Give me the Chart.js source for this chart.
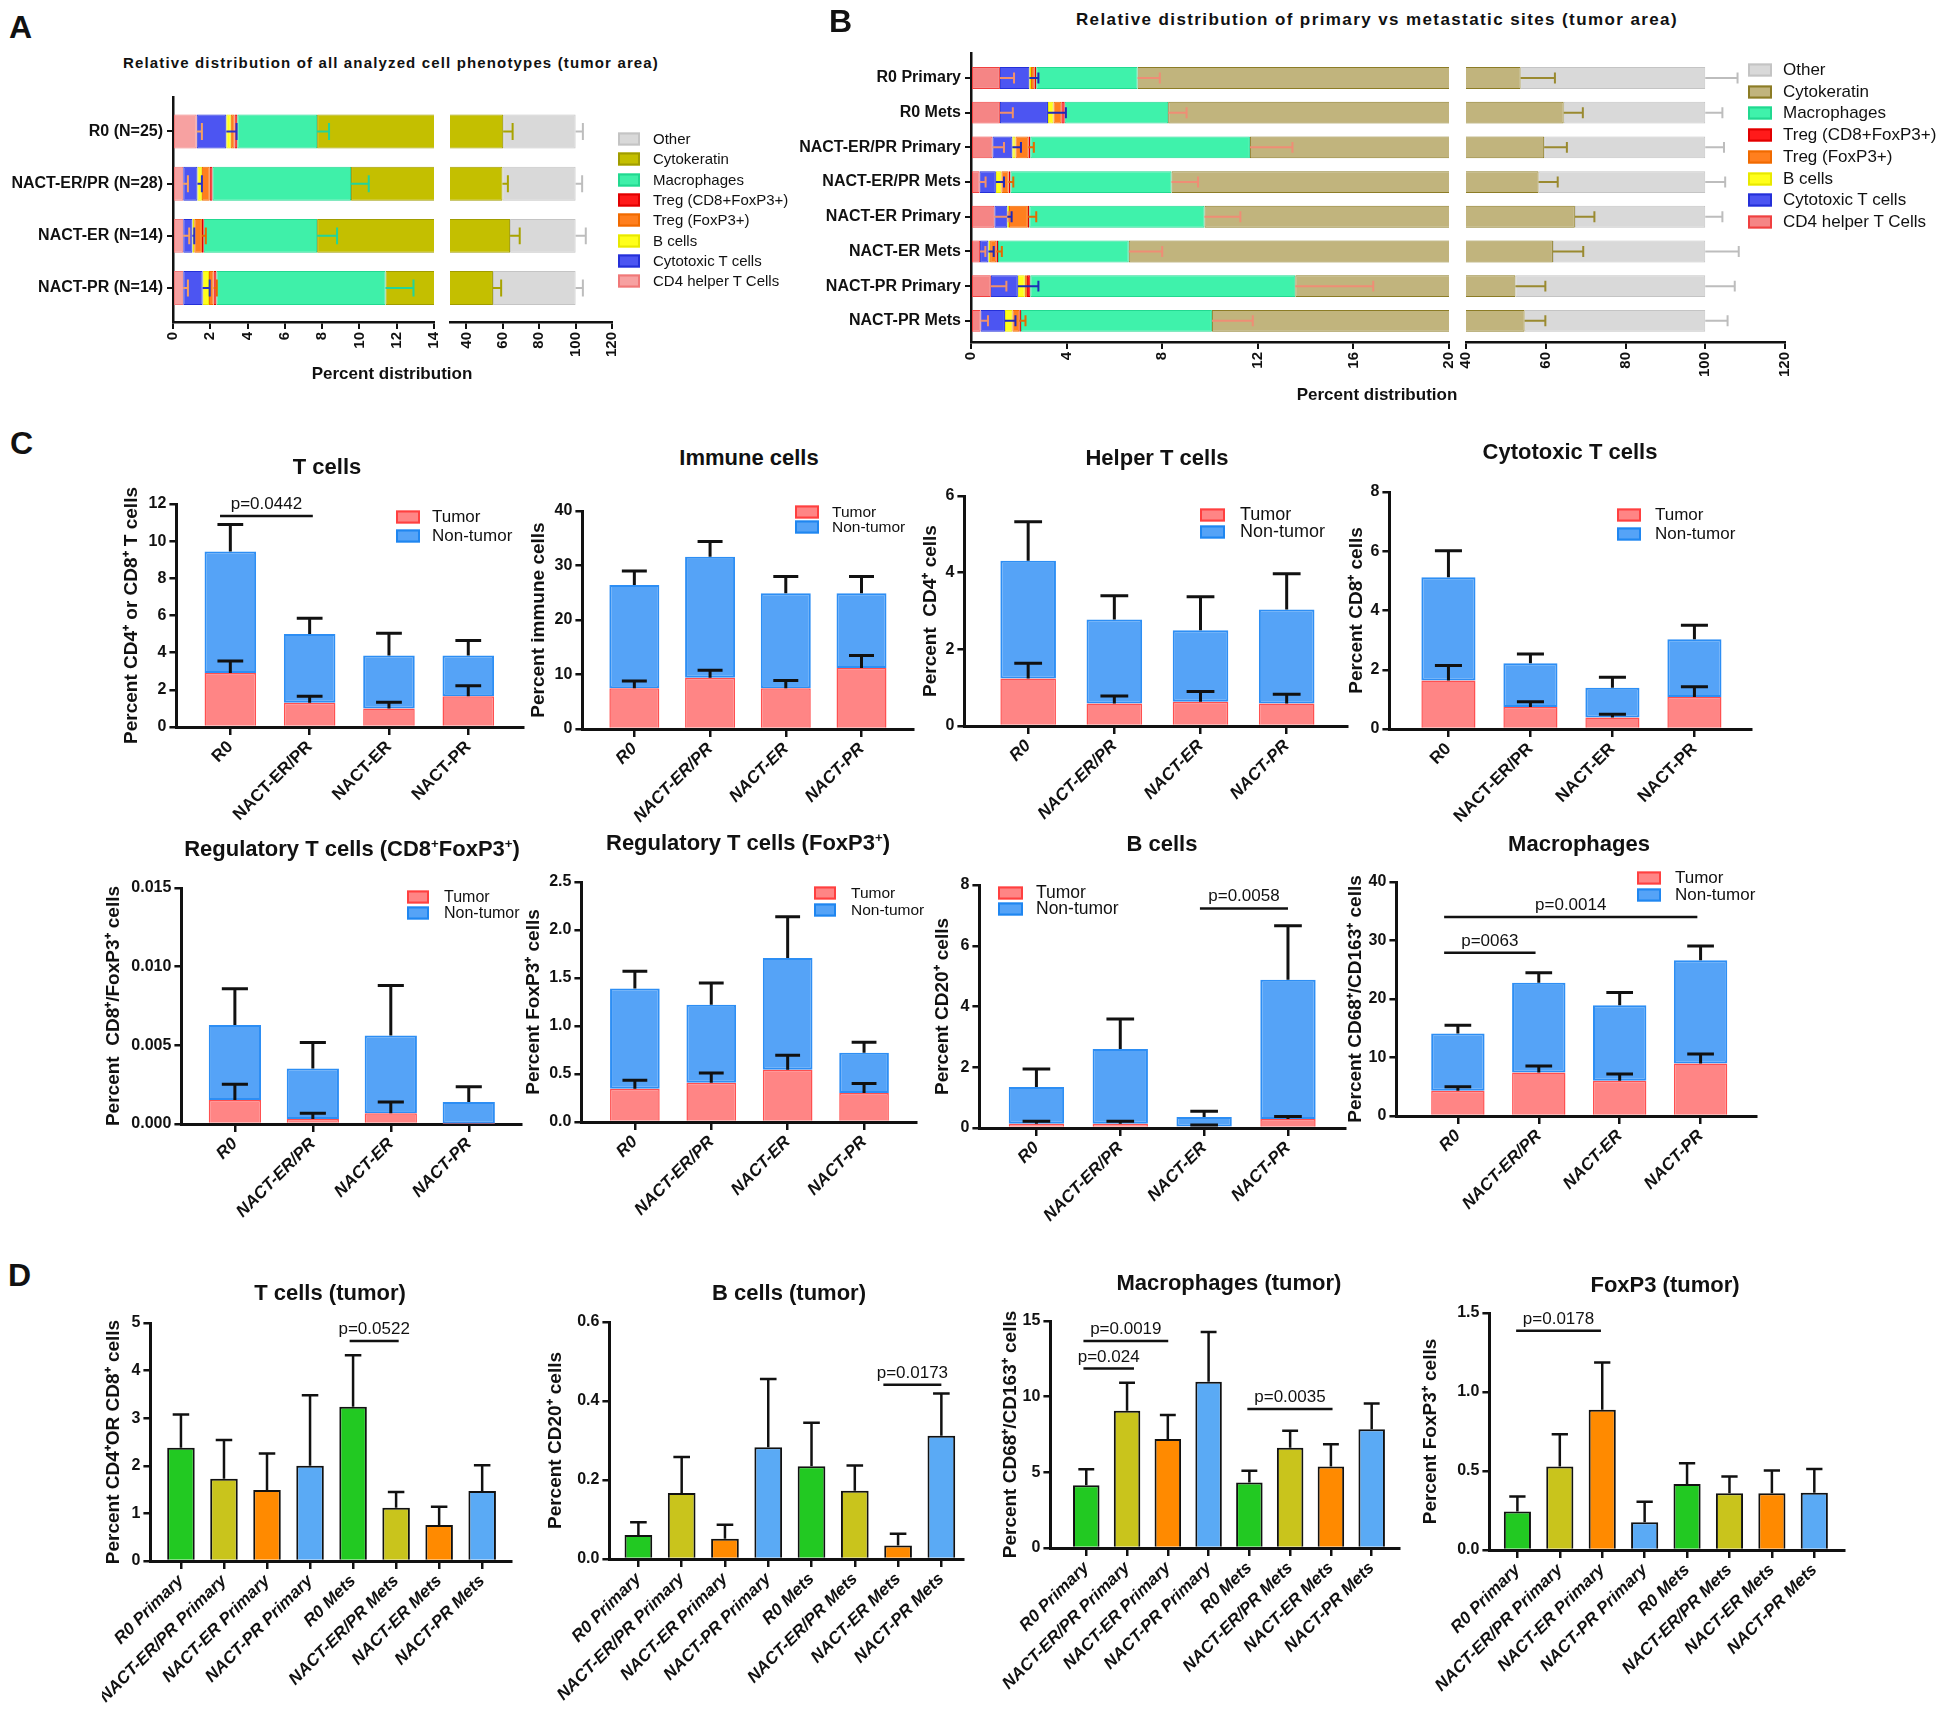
<!DOCTYPE html>
<html>
<head>
<meta charset="utf-8">
<script src="https://cdn.jsdelivr.net/npm/chart.js@4.4.1/dist/chart.umd.min.js"></script>
<style>
  body { margin: 0; background: #fff; }
  #page { position: relative; width: 1950px; height: 1723px; overflow: hidden; font-family: Arial, "Liberation Sans", sans-serif; color: #111; }
  canvas { position: absolute; }
  .txt { position: absolute; white-space: nowrap; transform: translate(-50%, -50%); line-height: 1.1; }
  .lg { position: absolute; white-space: nowrap; transform: translateY(-50%); line-height: 1.1; }
  .sw { position: absolute; box-sizing: border-box; transform: translateY(-50%); }
  .letter { position: absolute; font-weight: bold; font-size: 32px; line-height: 1; }
  sup { font-size: 0.6em; vertical-align: super; line-height: 0; }
</style>
</head>
<body>
<div id="page"></div>
<script>
const FONT = 'Arial, "Liberation Sans", sans-serif'
Chart.defaults.font.family = FONT
Chart.defaults.color = '#111'
Chart.defaults.animation = false

// ---------- panel A (segment widths, % of tumor area) ----------
const aCats = ['R0 (N=25)', 'NACT-ER/PR (N=28)', 'NACT-ER (N=14)', 'NACT-PR (N=14)']
const aHelper = [1.27, 0.55, 0.55, 0.55]
const aCytotoxic = [1.59, 0.76, 0.49, 1.04]
const aBcells = [0.24, 0.24, 0.10, 0.34]
const aTregFox = [0.20, 0.42, 0.41, 0.25]
const aTregCd8 = [0.15, 0.15, 0.10, 0.15]
const aMacro = [4.28, 7.43, 6.08, 9.07]
const aCytokeratin = [52.47, 50.25, 56.27, 43.2]
const aOther = [39.8, 40.2, 36.0, 45.4]
const aHelperErr = [0.28, 0.25, 0.32, 0.25]
const aCytotoxicErr = [0.55, 0.24, 0.1, 0.38]
const aTregFoxErr = [0, 0, 0.21, 0.17]
const aMacroErr = [0.64, 0.95, 1.07, 1.5]
const aCytokeratinErr = [5.2, 3.0, 5.3, 4.5]
const aOtherErr = [4, 3.6, 5.6, 4]
const aTicksLeft = [0, 2, 4, 6, 8, 10, 12, 14]
const aTicksRight = [40, 60, 80, 100, 120]

// ---------- panel B ----------
const bCats = ['R0 Primary', 'R0 Mets', 'NACT-ER/PR Primary', 'NACT-ER/PR Mets', 'NACT-ER Primary', 'NACT-ER Mets', 'NACT-PR Primary', 'NACT-PR Mets']
const bHelper = [1.21, 1.21, 0.9, 0.36, 0.98, 0.38, 0.83, 0.4]
const bCytotoxic = [1.23, 2.01, 0.83, 0.68, 0.54, 0.35, 1.13, 1.02]
const bBcells = [0.07, 0.23, 0.13, 0.23, 0.07, 0.07, 0.29, 0.31]
const bTregFox = [0.14, 0.33, 0.54, 0.3, 0.79, 0.26, 0.09, 0.29]
const bTregCd8 = [0.08, 0.14, 0.08, 0.08, 0.06, 0.07, 0.14, 0.07]
const bMacro = [4.24, 4.33, 9.19, 6.74, 7.33, 5.47, 11.09, 7.99]
const bCytokeratin = [46.73, 56.25, 47.93, 49.81, 57.53, 55.2, 38.83, 44.62]
const bOther = [46.3, 35.5, 40.4, 41.8, 32.7, 38.2, 47.6, 45.3]
const bHelperErr = [0.59, 0.54, 0.48, 0.25, 0.59, 0.22, 0.65, 0.31]
const bCytotoxicErr = [0.38, 0.75, 0.36, 0.34, 0.18, 0.22, 0.86, 0.44]
const bTregFoxErr = [0, 0, 0.23, 0.2, 0.35, 0.23, 0, 0.26]
const bMacroErr = [0.93, 0.77, 1.78, 1.11, 1.5, 1.4, 3.26, 1.71]
const bCytokeratinErr = [8.6, 4.8, 5.7, 4.8, 4.9, 7.6, 7.5, 5.2]
const bOtherErr = [8.1, 4.3, 4.7, 5.0, 4.3, 8.4, 7.4, 5.6]
const bTicksLeft = [0, 4, 8, 12, 16, 20]
const bTicksRight = [40, 60, 80, 100, 120]

const phenoNames = ['CD4 helper T Cells', 'Cytotoxic T cells', 'B cells', 'Treg (FoxP3+)', 'Treg (CD8+FoxP3+)', 'Macrophages', 'Cytokeratin', 'Other']

// ---------- panel C (tumor / non-tumor stacks) ----------
const cCats = ['R0', 'NACT-ER/PR', 'NACT-ER', 'NACT-PR']
const tcTumor = [2.9, 1.3, 1.0, 1.65]
const tcNon = [6.55, 3.7, 2.85, 2.2]
const tcTumorErr = [0.65, 0.35, 0.33, 0.57]
const tcNonErr = [1.45, 0.85, 1.2, 0.8]
const imTumor = [7.5, 9.4, 7.5, 11.2]
const imNon = [18.9, 22.2, 17.4, 13.7]
const imTumorErr = [1.3, 1.4, 1.4, 2.3]
const imNonErr = [2.6, 2.8, 3.1, 3.1]
const hpTumor = [1.24, 0.59, 0.63, 0.59]
const hpNon = [3.07, 2.19, 1.87, 2.45]
const hpTumorErr = [0.4, 0.19, 0.27, 0.24]
const hpNonErr = [1.02, 0.62, 0.87, 0.93]
const ctTumor = [1.64, 0.74, 0.39, 1.08]
const ctNon = [3.48, 1.48, 1.0, 1.95]
const ctTumorErr = [0.5, 0.18, 0.11, 0.35]
const ctNonErr = [0.9, 0.31, 0.36, 0.47]
const r8Tumor = [0.00152, 0.00032, 0.00068, 0.00002]
const r8Non = [0.00478, 0.00321, 0.00495, 0.00138]
const r8TumorErr = [0.001, 0.00036, 0.00072, 0]
const r8NonErr = [0.0023, 0.00165, 0.00317, 0.00097]
const rfTumor = [0.347, 0.41, 0.545, 0.302]
const rfNon = [1.043, 0.812, 1.163, 0.42]
const rfTumorErr = [0.087, 0.1, 0.15, 0.1]
const rfNonErr = [0.18, 0.226, 0.43, 0.11]
const bcTumor = [0.14, 0.14, 0.05, 0.3]
const bcNon = [1.21, 2.46, 0.31, 4.58]
const bcTumorErr = [0.08, 0.08, 0.05, 0.08]
const bcNonErr = [0.59, 0.99, 0.19, 1.78]
const mcTumor = [4.32, 7.45, 6.03, 8.99]
const mcNon = [9.78, 15.31, 12.92, 17.64]
const mcTumorErr = [0.68, 1.08, 1.14, 1.59]
const mcNonErr = [1.43, 1.71, 2.15, 2.45]
const tcTicks = [0, 2, 4, 6, 8, 10, 12]
const imTicks = [0, 10, 20, 30, 40]
const hpTicks = [0, 2, 4, 6]
const ctTicks = [0, 2, 4, 6, 8]
const r8Ticks = [0, 0.005, 0.010, 0.015]
const rfTicks = [0, 0.5, 1.0, 1.5, 2.0, 2.5]
const bcTicks = [0, 2, 4, 6, 8]
const mcTicks = [0, 10, 20, 30, 40]

// ---------- panel D (tumor only) ----------
const dCats = ['R0 Primary', 'NACT-ER/PR Primary', 'NACT-ER Primary', 'NACT-PR Primary', 'R0 Mets', 'NACT-ER/PR Mets', 'NACT-ER Mets', 'NACT-PR Mets']
const dTcells = [2.38, 1.73, 1.49, 2.0, 3.24, 1.12, 0.755, 1.47]
const dTcellsErr = [0.7, 0.81, 0.77, 1.48, 1.08, 0.33, 0.385, 0.54]
const dBcells = [0.061, 0.167, 0.051, 0.283, 0.235, 0.173, 0.034, 0.312]
const dBcellsErr = [0.032, 0.091, 0.036, 0.173, 0.11, 0.064, 0.03, 0.107]
const dMacro = [4.15, 9.07, 7.2, 10.98, 4.33, 6.63, 5.38, 7.84]
const dMacroErr = [1.05, 1.85, 1.59, 3.3, 0.77, 1.12, 1.47, 1.71]
const dFoxp3 = [0.243, 0.528, 0.887, 0.175, 0.418, 0.359, 0.359, 0.363]
const dFoxp3Err = [0.095, 0.205, 0.3, 0.131, 0.131, 0.106, 0.144, 0.15]
const dTTicks = [0, 1, 2, 3, 4, 5]
const dBTicks = [0, 0.2, 0.4, 0.6]
const dMTicks = [0, 5, 10, 15]
const dFTicks = [0, 0.5, 1.0, 1.5]

// ---------- styles ----------
const fillA = ['#f7a1a1', '#4c55f2', '#ffff1a', '#ff7f1e', '#ff1a1a', '#3ff0a9', '#c4bf00', '#d9d9d9']
const lineA = ['#f07878', '#2430d8', '#e8e800', '#f06a00', '#e00000', '#22d890', '#a09c00', '#c4c4c4']
const errA = ['#f5a060', '#2a33c8', '#d8d800', '#e56a00', '#d00000', '#22d49a', '#a8a300', '#bdbdbd']
const fillB = ['#f58585', '#4c55f2', '#ffff1a', '#ff7f1e', '#ff1a1a', '#3ff2ab', '#c1b47d', '#d9d9d9']
const lineB = ['#f04040', '#2430d8', '#e8e800', '#f06a00', '#e00000', '#22d890', '#8c7c26', '#c4c4c4']
const errB = ['#f0906a', '#1f2ab8', '#d8d800', '#e56a00', '#d00000', '#ef8d75', '#9a8a30', '#bdbdbd']
const dPalette = ['#22c922', '#c9c41c', '#ff8a00', '#5aaaf5']

const page = document.getElementById('page')

function addCanvas(x, y, w, h) {
  const c = document.createElement('canvas')
  c.width = Math.round(w)
  c.height = Math.round(h)
  c.style.left = Math.round(x) + 'px'
  c.style.top = Math.round(y) + 'px'
  page.appendChild(c)
  return c
}

function addText(html, x, y, size, spacing = 0) {
  const d = document.createElement('div')
  d.className = 'txt'
  d.innerHTML = html
  d.style.left = x + 'px'
  d.style.top = y + 'px'
  d.style.fontSize = size + 'px'
  d.style.fontWeight = 'bold'
  d.style.letterSpacing = spacing + 'px'
  page.appendChild(d)
}

function addLetter(ch, x, y) {
  const d = document.createElement('div')
  d.className = 'letter'
  d.textContent = ch
  d.style.left = x + 'px'
  d.style.top = y + 'px'
  page.appendChild(d)
}

function addLegend(names, fills, lines, swX, swW, ys, textX, size) {
  names.forEach((n, i) => {
    const s = document.createElement('div')
    s.className = 'sw'
    Object.assign(s.style, { left: swX + 'px', top: ys[i] + 'px', width: swW + 'px', height: '13px', background: fills[i], border: '2px solid ' + lines[i] })
    page.appendChild(s)
    const t = document.createElement('div')
    t.className = 'lg'
    Object.assign(t.style, { left: textX + 'px', top: ys[i] + 'px', fontSize: size + 'px' })
    t.textContent = n
    page.appendChild(t)
  })
}

// error bars drawn from the end of each bar, using the value scale
const errorBarPlugin = {
  id: 'errorBars',
  afterDatasetsDraw(chart) {
    const { ctx, chartArea: area } = chart
    const horizontal = chart.options.indexAxis === 'y'
    const vScale = horizontal ? chart.scales.x : chart.scales.y
    const span = v => Math.abs(vScale.getPixelForValue(v) - vScale.getPixelForValue(0))
    ctx.save()
    ctx.beginPath()
    ctx.rect(area.left - 1, 0, area.right - area.left + 2, chart.height)
    ctx.clip()
    chart.data.datasets.forEach((ds, di) => {
      if (!ds.errors) return
      chart.getDatasetMeta(di).data.forEach((bar, i) => {
        const e = ds.errors[i]
        if (!e) return
        const len = span(e)
        const half = (horizontal ? bar.height : bar.width) * ds.capRatio / 2
        ctx.strokeStyle = ds.errorColor
        ctx.lineWidth = ds.errorWidth
        ctx.beginPath()
        if (horizontal) {
          ctx.moveTo(bar.x, bar.y); ctx.lineTo(bar.x + len, bar.y)
          ctx.moveTo(bar.x + len, bar.y - half); ctx.lineTo(bar.x + len, bar.y + half)
        } else {
          ctx.moveTo(bar.x, bar.y); ctx.lineTo(bar.x, bar.y - len)
          ctx.moveTo(bar.x - half, bar.y - len); ctx.lineTo(bar.x + half, bar.y - len)
        }
        ctx.stroke()
      })
    })
    ctx.restore()
  }
}

// significance lines with p-values
const bracketPlugin = {
  id: 'brackets',
  afterDatasetsDraw(chart, args, opts) {
    const { ctx, scales: { x, y } } = chart
    ;(opts.items || []).forEach(b => {
      const x1 = x.getPixelForValue(b.from)
      const x2 = x.getPixelForValue(b.to)
      const yy = y.getPixelForValue(b.at)
      ctx.save()
      ctx.strokeStyle = '#111'
      ctx.lineWidth = 2.5
      ctx.beginPath(); ctx.moveTo(x1, yy); ctx.lineTo(x2, yy); ctx.stroke()
      ctx.fillStyle = '#111'
      ctx.font = '17px ' + FONT
      ctx.textAlign = 'center'
      ctx.fillText(b.label, (x1 + x2) / 2, yy - 7)
      ctx.restore()
    })
  }
}

const axisGrid = (w, len) => ({ offset: false, drawOnChartArea: false, drawTicks: true, tickLength: len, color: '#111', lineWidth: w })

function hSets(series, errs, fills, lines, errColors) {
  return series.map((vals, k) => ({
    label: phenoNames[k],
    data: vals.map((v, i) => ({ x: v, y: i })),
    backgroundColor: fills[k], borderColor: lines[k], borderWidth: 1, borderSkipped: false,
    clip: 0,
    errors: errs[k], errorColor: errColors[k], errorWidth: 2, capRatio: 0.5
  }))
}

function hChart(o) {
  const showY = !!o.cats
  const ML = showY ? o.l - o.canvasLeft : 10
  const MT = 20, MR = 25, MB = 50
  const cv = addCanvas(o.l - ML, o.t - MT, o.r - o.l + ML + MR, o.b - o.t + MT + MB)
  return new Chart(cv, {
    type: 'bar',
    data: { datasets: o.datasets },
    options: {
      indexAxis: 'y', responsive: false, animation: false,
      layout: { padding: { top: MT, right: MR, left: showY ? 0 : ML, bottom: 0 } },
      datasets: { bar: { barPercentage: o.barPct, categoryPercentage: 1 } },
      plugins: { legend: { display: false }, tooltip: { enabled: false } },
      scales: {
        y: {
          type: 'linear', stacked: true, reverse: true, offset: false, display: showY,
          min: o.idxMin, max: o.idxMax,
          afterBuildTicks: s => { s.ticks = o.n.map(i => ({ value: i })) },
          afterFit: s => { if (showY) s.width = ML },
          ticks: { autoSkip: false, callback: v => showY ? o.cats[v] : '', font: { size: 16, weight: 'bold' }, padding: 4, color: '#111' },
          grid: axisGrid(2, 6),
          border: { color: '#111', width: 2.5 }
        },
        x: {
          type: 'linear', stacked: true, min: o.xMin, max: o.xTicks[o.xTicks.length - 1],
          afterBuildTicks: s => { s.ticks = o.xTicks.map(v => ({ value: v })) },
          afterFit: s => { s.height = MB },
          ticks: { autoSkip: false, minRotation: 90, maxRotation: 90, font: { size: 15, weight: 'bold' }, padding: 3, color: '#111' },
          grid: axisGrid(2, 7),
          border: { color: '#111', width: 2.5 }
        }
      }
    },
    plugins: [errorBarPlugin]
  })
}

function cSets(tumor, non, tErr, nErr) {
  return [
    { label: 'Tumor', data: tumor.map((v, i) => ({ x: i, y: v })), backgroundColor: '#ff8585', borderColor: '#ff5050', borderWidth: 1.5,
      errors: tErr, errorColor: '#111', errorWidth: 3, capRatio: 0.5 },
    { label: 'Non-tumor', data: non.map((v, i) => ({ x: i, y: v })), backgroundColor: '#55a3f7', borderColor: '#2d8ef4', borderWidth: 2, borderSkipped: false,
      errors: nErr, errorColor: '#111', errorWidth: 3, capRatio: 0.5 }
  ]
}

function dSet(vals, errs) {
  return [{
    data: vals.map((v, i) => ({ x: i, y: v })),
    backgroundColor: vals.map((v, i) => dPalette[i % 4]),
    borderColor: '#111', borderWidth: 2,
    errors: errs, errorColor: '#111', errorWidth: 2.5, capRatio: 0.6
  }]
}

function vChart(o) {
  const ML = o.l - (o.titleX - 11.4)
  const MT = 30, MR = 14
  const cv = addCanvas(o.l - ML, o.t - MT, o.r - o.l + ML + MR, o.b - o.t + MT + o.mb)
  return new Chart(cv, {
    type: 'bar',
    data: { datasets: o.datasets },
    options: {
      responsive: false, animation: false,
      layout: { padding: { top: MT, right: MR, left: 0, bottom: 0 } },
      datasets: { bar: { barPercentage: o.barPct, categoryPercentage: 1 } },
      plugins: { legend: { display: false }, tooltip: { enabled: false }, brackets: { items: o.brackets || [] } },
      scales: {
        x: {
          type: 'linear', stacked: true, offset: false, min: o.idxMin, max: o.idxMax,
          afterBuildTicks: s => { s.ticks = o.cats.map((c, i) => ({ value: i })) },
          afterFit: s => { s.height = o.mb },
          ticks: { autoSkip: false, minRotation: 45, maxRotation: 45, callback: v => o.cats[v], padding: 2, color: '#111',
                   font: { size: 17, weight: 'bold', style: o.italic ? 'italic' : 'normal' } },
          grid: axisGrid(2.5, 8),
          border: { color: '#111', width: 3 }
        },
        y: {
          type: 'linear', stacked: true, min: o.yTicks[0], max: o.yTicks[o.yTicks.length - 1],
          afterBuildTicks: s => { s.ticks = o.yTicks.map(v => ({ value: v })) },
          afterFit: s => { s.width = ML },
          ticks: { callback: o.fmt || (v => v), font: { size: 16, weight: 'bold' }, padding: 3, color: '#111' },
          grid: axisGrid(2.5, 7),
          border: { color: '#111', width: 3 },
          title: { display: true, text: o.yTitle, font: { size: 19, weight: 'bold' }, padding: 0, color: '#111' }
        }
      }
    },
    plugins: [errorBarPlugin, bracketPlugin]
  })
}

const idx4 = [0, 1, 2, 3]
const idx8 = [0, 1, 2, 3, 4, 5, 6, 7]
const f1 = v => v.toFixed(1)
const f3 = v => v.toFixed(3)

// ---------- A ----------
const aSeries = [aHelper, aCytotoxic, aBcells, aTregFox, aTregCd8, aMacro, aCytokeratin, aOther]
const aErrs = [aHelperErr, aCytotoxicErr, null, aTregFoxErr, null, aMacroErr, aCytokeratinErr, aOtherErr]
hChart({ l: 173, r: 434, t: 97, b: 322, canvasLeft: 0, cats: aCats, n: idx4, idxMin: -0.66, idxMax: 3.65,
  xMin: 0, xTicks: aTicksLeft, barPct: 0.65, datasets: hSets(aSeries, aErrs, fillA, lineA, errA) })
hChart({ l: 450, r: 612, t: 97, b: 322, cats: null, n: idx4, idxMin: -0.66, idxMax: 3.65,
  xMin: 31, xTicks: aTicksRight, barPct: 0.65, datasets: hSets(aSeries, aErrs, fillA, lineA, errA) })

// ---------- B ----------
const bSeries = [bHelper, bCytotoxic, bBcells, bTregFox, bTregCd8, bMacro, bCytokeratin, bOther]
const bErrs = [bHelperErr, bCytotoxicErr, null, bTregFoxErr, null, bMacroErr, bCytokeratinErr, bOtherErr]
hChart({ l: 971, r: 1449, t: 53, b: 342, canvasLeft: 780, cats: bCats, n: idx8, idxMin: -0.72, idxMax: 7.61,
  xMin: 0, xTicks: bTicksLeft, barPct: 0.63, datasets: hSets(bSeries, bErrs, fillB, lineB, errB) })
hChart({ l: 1466, r: 1785, t: 53, b: 342, cats: null, n: idx8, idxMin: -0.72, idxMax: 7.61,
  xMin: 40, xTicks: bTicksRight, barPct: 0.63, datasets: hSets(bSeries, bErrs, fillB, lineB, errB) })

// ---------- C ----------
vChart({ l: 176, r: 523, t: 504, b: 727, titleX: 131, mb: 110, cats: cCats, idxMin: -0.68, idxMax: 3.69, yTicks: tcTicks,
  yTitle: 'Percent CD4⁺ or CD8⁺ T cells', italic: false, barPct: 0.65, datasets: cSets(tcTumor, tcNon, tcTumorErr, tcNonErr),
  brackets: [{ from: -0.13, to: 1.04, at: 11.36, label: 'p=0.0442' }] })
vChart({ l: 582, r: 913, t: 511, b: 729, titleX: 538, mb: 110, cats: cCats, idxMin: -0.686, idxMax: 3.68, yTicks: imTicks,
  yTitle: 'Percent immune cells', italic: true, barPct: 0.66, datasets: cSets(imTumor, imNon, imTumorErr, imNonErr) })
vChart({ l: 964, r: 1347, t: 496, b: 726, titleX: 930, mb: 110, cats: cCats, idxMin: -0.74, idxMax: 3.70, yTicks: hpTicks,
  yTitle: 'Percent  CD4⁺ cells', italic: true, barPct: 0.645, datasets: cSets(hpTumor, hpNon, hpTumorErr, hpNonErr) })
vChart({ l: 1389, r: 1751, t: 492, b: 729, titleX: 1356, mb: 110, cats: cCats, idxMin: -0.72, idxMax: 3.69, yTicks: ctTicks,
  yTitle: 'Percent CD8⁺ cells', italic: false, barPct: 0.66, datasets: cSets(ctTumor, ctNon, ctTumorErr, ctNonErr) })
vChart({ l: 181, r: 521, t: 888, b: 1124, titleX: 113, mb: 110, cats: cCats, idxMin: -0.686, idxMax: 3.67, yTicks: r8Ticks, fmt: f3,
  yTitle: 'Percent  CD8⁺/FoxP3⁺ cells', italic: true, barPct: 0.67, datasets: cSets(r8Tumor, r8Non, r8TumorErr, r8NonErr) })
vChart({ l: 581, r: 916, t: 882, b: 1122, titleX: 533, mb: 110, cats: cCats, idxMin: -0.70, idxMax: 3.68, yTicks: rfTicks, fmt: f1,
  yTitle: 'Percent FoxP3⁺ cells', italic: true, barPct: 0.65, datasets: cSets(rfTumor, rfNon, rfTumorErr, rfNonErr) })
vChart({ l: 979, r: 1345, t: 885, b: 1128, titleX: 942, mb: 110, cats: cCats, idxMin: -0.68, idxMax: 3.68, yTicks: bcTicks,
  yTitle: 'Percent CD20⁺ cells', italic: true, barPct: 0.66, datasets: cSets(bcTumor, bcNon, bcTumorErr, bcNonErr),
  brackets: [{ from: 1.95, to: 3.0, at: 7.23, label: 'p=0.0058' }] })
vChart({ l: 1396, r: 1756, t: 882, b: 1116, titleX: 1355, mb: 110, cats: cCats, idxMin: -0.76, idxMax: 3.685, yTicks: mcTicks,
  yTitle: 'Percent CD68⁺/CD163⁺ cells', italic: true, barPct: 0.66, datasets: cSets(mcTumor, mcNon, mcTumorErr, mcNonErr),
  brackets: [{ from: -0.17, to: 2.96, at: 34.0, label: 'p=0.0014' }, { from: -0.17, to: 0.96, at: 27.9, label: 'p=0063' }] })

// ---------- D ----------
vChart({ l: 150, r: 511, t: 1323, b: 1561, titleX: 113, mb: 155, cats: dCats, idxMin: -0.71, idxMax: 7.67, yTicks: dTTicks,
  yTitle: 'Percent CD4⁺OR CD8⁺ cells', italic: true, barPct: 0.64, datasets: dSet(dTcells, dTcellsErr),
  brackets: [{ from: 3.92, to: 5.06, at: 4.62, label: 'p=0.0522' }] })
vChart({ l: 609, r: 963, t: 1322, b: 1559, titleX: 555, mb: 155, cats: dCats, idxMin: -0.67, idxMax: 7.5, yTicks: dBTicks, fmt: f1,
  yTitle: 'Percent CD20⁺ cells', italic: true, barPct: 0.64, datasets: dSet(dBcells, dBcellsErr),
  brackets: [{ from: 5.66, to: 7.0, at: 0.441, label: 'p=0.0173' }] })
vChart({ l: 1050, r: 1399, t: 1321, b: 1548, titleX: 1010, mb: 155, cats: dCats, idxMin: -0.88, idxMax: 7.67, yTicks: dMTicks,
  yTitle: 'Percent CD68⁺/CD163⁺ cells', italic: true, barPct: 0.65, datasets: dSet(dMacro, dMacroErr),
  brackets: [{ from: -0.07, to: 2.01, at: 13.68, label: 'p=0.0019' }, { from: -0.07, to: 1.17, at: 11.86, label: 'p=0.024' },
             { from: 3.95, to: 6.04, at: 9.18, label: 'p=0.0035' }] })
vChart({ l: 1489, r: 1844, t: 1313, b: 1550, titleX: 1430, mb: 155, cats: dCats, idxMin: -0.66, idxMax: 7.7, yTicks: dFTicks, fmt: f1,
  yTitle: 'Percent FoxP3⁺ cells', italic: true, barPct: 0.64, datasets: dSet(dFoxp3, dFoxp3Err),
  brackets: [{ from: -0.03, to: 1.97, at: 1.388, label: 'p=0.0178' }] })

// ---------- text: letters, titles, legends ----------
addLetter('A', 9, 11)
addLetter('B', 829, 5)
addLetter('C', 10, 427)
addLetter('D', 8, 1259)

addText('Relative distribution of all analyzed cell phenotypes (tumor area)', 391, 63, 15, 1.15)
addText('Percent distribution', 392, 374, 17)
addText('Relative distribution of primary vs metastatic sites (tumor area)', 1377, 20, 17, 1.4)
addText('Percent distribution', 1377, 395, 17)

const legOrder = [7, 6, 5, 4, 3, 2, 1, 0]
addLegend(legOrder.map(k => phenoNames[k]), legOrder.map(k => fillA[k]), legOrder.map(k => lineA[k]),
  618, 22, legOrder.map((k, i) => 139 + i * 20.3), 653, 15)
addLegend(legOrder.map(k => phenoNames[k]), legOrder.map(k => fillB[k]), legOrder.map(k => lineB[k]),
  1748, 24, legOrder.map((k, i) => 70 + i * 21.7), 1783, 17)

addText('T cells', 327, 467, 22)
addText('Immune cells', 749, 458, 22)
addText('Helper T cells', 1157, 458, 22)
addText('Cytotoxic T cells', 1570, 452, 22)
addText('Regulatory T cells (CD8<sup>+</sup>FoxP3<sup>+</sup>)', 352, 849, 22)
addText('Regulatory T cells (FoxP3<sup>+</sup>)', 748, 843, 22)
addText('B cells', 1162, 844, 22)
addText('Macrophages', 1579, 844, 22)
addText('T cells (tumor)', 330, 1293, 22)
addText('B cells (tumor)', 789, 1293, 22)
addText('Macrophages (tumor)', 1229, 1283, 22)
addText('FoxP3 (tumor)', 1665, 1285, 22)

const tnNames = ['Tumor', 'Non-tumor']
const tnFill = ['#ff8585', '#55a3f7']
const tnLine = ['#ff4040', '#1f86f0']
addLegend(tnNames, tnFill, tnLine, 396, 24, [517, 536], 432, 17)
addLegend(tnNames, tnFill, tnLine, 795, 24, [512, 527], 832, 15.5)
addLegend(tnNames, tnFill, tnLine, 1200, 25, [515, 532], 1240, 18)
addLegend(tnNames, tnFill, tnLine, 1617, 24, [515, 534], 1655, 17)
addLegend(tnNames, tnFill, tnLine, 407, 22, [897, 913], 444, 16)
addLegend(tnNames, tnFill, tnLine, 814, 22, [893, 910], 851, 15.5)
addLegend(tnNames, tnFill, tnLine, 998, 25, [893, 909], 1036, 17.5)
addLegend(tnNames, tnFill, tnLine, 1637, 24, [878, 895], 1675, 17)
</script>
</body>
</html>
